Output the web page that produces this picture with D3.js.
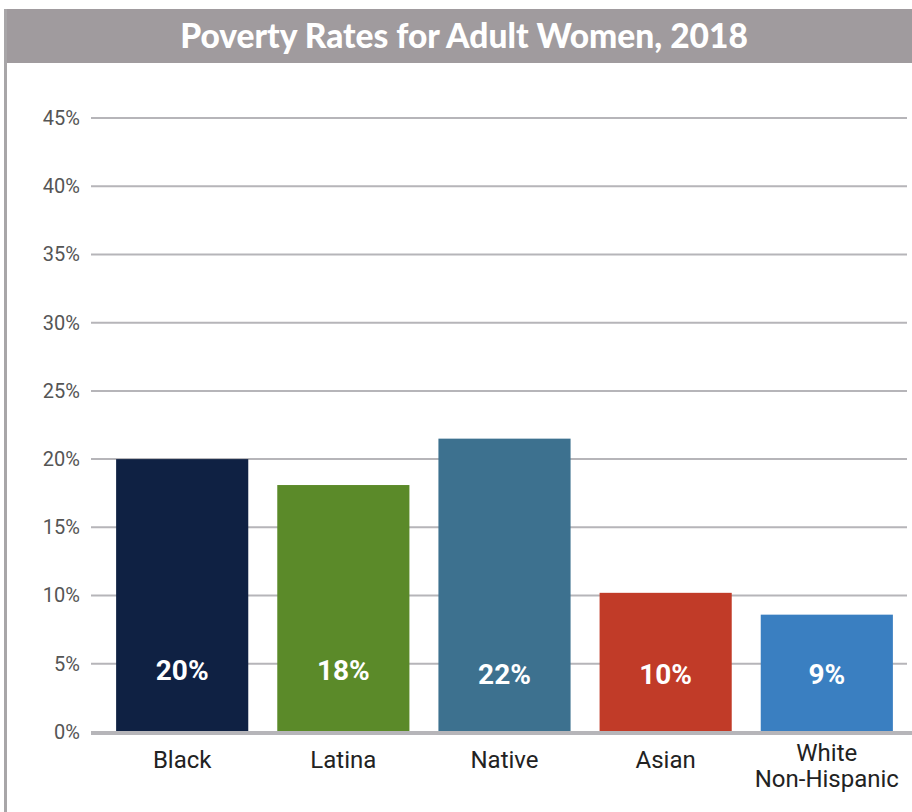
<!DOCTYPE html>
<html><head><meta charset="utf-8">
<script src="https://cdn.jsdelivr.net/npm/d3@7"></script>
<style>body{margin:0;background:#fff}svg{display:block}</style>
</head><body>
<svg id="c" width="912" height="812"></svg>
<script>
const title = "Poverty Rates for Adult Women, 2018";
const categories = ["Black", "Latina", "Native", "Asian", "White\nNon-Hispanic"];
const values = [20.0, 18.1, 21.5, 10.2, 8.6];
const valueLabels = ["20%", "18%", "22%", "10%", "9%"];
const colors = ["#0f2143", "#5b8a29", "#3d718f", "#c13b28", "#3a7fc1"];
const yTicks = [0, 5, 10, 15, 20, 25, 30, 35, 40, 45];

const svg = d3.select("#c");
// frame
svg.append("rect").attr("x", 4).attr("y", 9).attr("width", 908).attr("height", 54).attr("fill", "#a09b9e");
svg.append("line").attr("x1", 5.5).attr("x2", 5.5).attr("y1", 9).attr("y2", 812).attr("stroke", "#a8a6a8").attr("stroke-width", 3);
svg.append("text").attr("x", 464).attr("y", 48).attr("text-anchor", "middle")
  .attr("fill", "#fff").attr("font-family", "Lato, 'Open Sans', sans-serif").attr("font-weight", 900)
  .attr("font-size", 33.5).text(title);

const y = d3.scaleLinear().domain([0, 45]).range([732, 118]);
const x = d3.scaleBand().domain(categories).range([100, 909]).paddingInner(0.18).paddingOuter(0.1);

// grid
const g = svg.append("g");
g.selectAll("line.grid").data(yTicks.filter(d => d > 0)).join("line")
  .attr("x1", 91).attr("x2", 907).attr("y1", d => y(d)).attr("y2", d => y(d))
  .attr("stroke", "#b6b5b9").attr("stroke-width", 2);

// y axis labels
const yAxis = d3.axisLeft(y).tickValues(yTicks).tickFormat(d => d + "%").tickSize(0).tickPadding(0);
const ya = svg.append("g").attr("transform", "translate(80,0)").call(yAxis);
ya.select(".domain").remove();
ya.selectAll("text").attr("font-family", "Roboto, sans-serif").attr("font-size", 20).attr("fill", "#555");

// bars
svg.selectAll("rect.bar").data(categories).join("rect")
  .attr("x", d => x(d)).attr("width", x.bandwidth())
  .attr("y", (d, i) => y(values[i])).attr("height", (d, i) => y(0) - y(values[i]))
  .attr("fill", (d, i) => colors[i]);

// baseline
svg.append("line").attr("x1", 91).attr("x2", 912).attr("y1", y(0) + 1).attr("y2", y(0) + 1)
  .attr("stroke", "#b6b5b9").attr("stroke-width", 4);

// value labels
svg.selectAll("text.val").data(categories).join("text")
  .attr("x", d => x(d) + x.bandwidth() / 2).attr("y", (d, i) => i < 2 ? 680 : 684)
  .attr("text-anchor", "middle").attr("fill", "#fff")
  .attr("font-family", "Roboto, sans-serif").attr("font-weight", 700).attr("font-size", 28)
  .text((d, i) => valueLabels[i]);

// category labels
const xa = svg.append("g").attr("transform", `translate(0,${y(0)})`)
  .call(d3.axisBottom(x).tickSize(0).tickFormat(""));
xa.select(".domain").remove();
categories.forEach(c => {
  const lines = c.split("\n");
  const t = svg.append("text").attr("x", x(c) + x.bandwidth() / 2)
    .attr("text-anchor", "middle").attr("font-family", "Roboto, sans-serif")
    .attr("font-size", 24).attr("fill", "#222");
  const y0 = lines.length === 1 ? 768 : 761;
  lines.forEach((l, i) => t.append("tspan").attr("x", x(c) + x.bandwidth() / 2).attr("y", y0 + i * 26).text(l));
});
</script>
</body></html>
